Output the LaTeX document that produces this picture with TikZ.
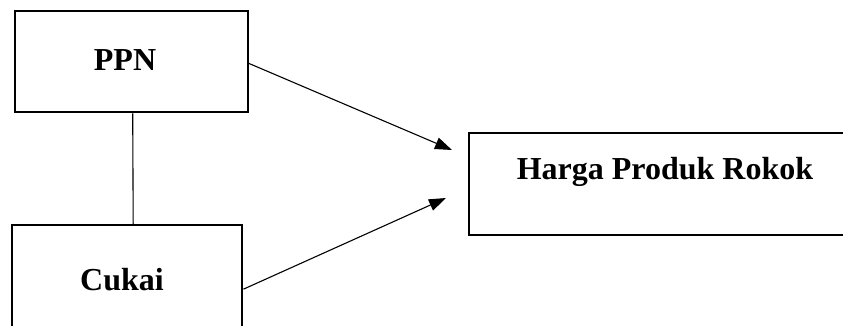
\documentclass[tikz,border=0pt]{standalone}
\usepackage{fontspec}
\setmainfont{Liberation Serif}
\usetikzlibrary{arrows.meta,calc}
\begin{document}
\begin{tikzpicture}[x=1pt,y=-1pt,
  box/.style={draw=black,line width=2.4pt,rectangle,inner sep=0pt,anchor=north west},
  lbl/.style={font=\fontsize{32}{38}\selectfont\bfseries,inner sep=0pt},
  link/.style={draw=black,line width=1.1pt},
  arr/.style={link,-{Triangle[length=17pt,width=12pt]}}]
  \useasboundingbox (0,0) rectangle (843,325);
  \clip (0,0) rectangle (843,325);
  % boxes (the lower and right ones run past the page edge)
  \node[box,minimum width=233pt,minimum height=101pt] (ppn) at (14,10) {};
  \node[box,minimum width=230pt,minimum height=128pt] (cukai) at (11,224) {};
  \node[box,minimum width=390pt,minimum height=102pt] (harga) at (468,132) {};
  % texts
  \node[lbl] (tppn) at (125,60) {PPN};
  \node[lbl] (tcukai) at (122,280) {Cukai};
  \node[lbl] (tharga) at (665,172) {Harga Produk Rokok};
  % connectors
  \coordinate (t1) at (452,150);
  \coordinate (t2) at (446,198);
  \coordinate (s1) at ($(ppn.east)+(-1,1.5)$);
  \draw[link] ($(ppn.south)+(1,0)$) -- ($(ppn.south |- cukai.north)+(1.5,0)$);
  \draw[arr] (s1) -- (t1);
  \draw[arr] (cukai.east) -- (t2);
\end{tikzpicture}
\end{document}
